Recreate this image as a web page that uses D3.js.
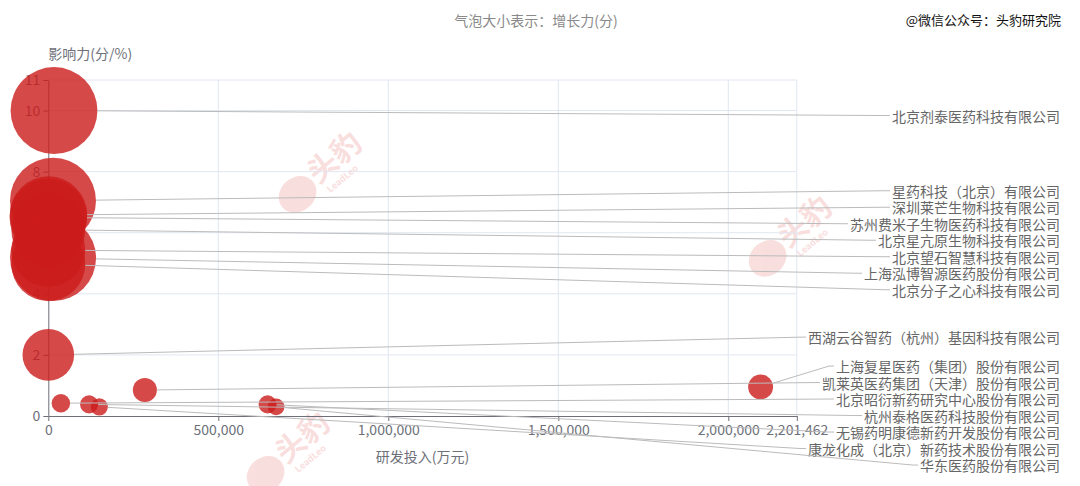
<!DOCTYPE html>
<html><head><meta charset="utf-8">
<script src="https://cdn.jsdelivr.net/npm/d3@7"></script>
<style>
body{margin:0;background:#fff}
svg{display:block}
text{font-family:"Noto Sans CJK SC","Microsoft YaHei",sans-serif}
</style>
</head><body>
<svg id="chart" width="1080" height="486"></svg>
<script>
// ---- data ----
const companies = [
  "北京剂泰医药科技有限公司",
  "星药科技（北京）有限公司",
  "深圳莱芒生物科技有限公司",
  "苏州费米子生物医药科技有限公司",
  "北京星亢原生物科技有限公司",
  "北京望石智慧科技有限公司",
  "上海泓博智源医药股份有限公司",
  "北京分子之心科技有限公司",
  "西湖云谷智药（杭州）基因科技有限公司",
  "上海复星医药（集团）股份有限公司",
  "凯莱英医药集团（天津）股份有限公司",
  "北京昭衍新药研究中心股份有限公司",
  "杭州泰格医药科技股份有限公司",
  "无锡药明康德新药开发股份有限公司",
  "康龙化成（北京）新药技术股份有限公司",
  "华东医药股份有限公司"
];
// 研发投入(万元)
const rdInvest = [16800, 13800, 500, 0, 0, 0, 14000, 0, 0, 2095000, 284000, 37000, 120000, 645000, 150000, 670000];
// 影响力(分/%)
const influence = [10, 7.05, 6.58, 6.5, 6.1, 5.43, 5.17, 4.97, 2, 0.95, 0.85, 0.42, 0.38, 0.38, 0.30, 0.30];
// 增长力(分) -> bubble size
const growth = [10.1, 10, 9, 9, 8.6, 8.6, 10, 8.6, 6, 2.9, 2.8, 2.15, 2.1, 2.1, 2.0, 1.95];
const xTicks = [0, 500000, 1000000, 1500000, 2000000, 2201462];
const yTicks = [0, 2, 4, 6, 8, 10, 11];
const titleText = "气泡大小表示：增长力(分)";
const sourceText = "@微信公众号：头豹研究院";
const yName = "影响力(分/%)";
const xName = "研发投入(万元)";

// ---- layout ----
const svg = d3.select("#chart");
const pL = 48.3, pR = 796.8, pT = 80, pB = 416;
const x = d3.scaleLinear().domain([0, xTicks[xTicks.length - 1]]).range([pL, pR]);
const y = d3.scaleLinear().domain([0, yTicks[yTicks.length - 1]]).range([pB, pT]);
const r = d3.scaleLinear().domain([0, 10]).range([0, 43]);
const axisColor = "#6E7079", gridColor = "#E0E6F1";

// watermarks
const wmPos = [[318, 172], [788, 236], [286, 452]];
wmPos.forEach(([wx, wy]) => {
  const g = svg.append("g").attr("transform", `translate(${wx},${wy}) rotate(-40)`).attr("opacity", 0.16);
  g.append("ellipse").attr("cx", -30).attr("cy", 4).attr("rx", 20).attr("ry", 17).attr("fill", "#e03a3a");
  g.append("text").attr("x", -8).attr("y", 10).attr("font-size", 30).attr("font-weight", 700)
    .attr("fill", "#e03a3a").text("头豹");
  g.append("text").attr("x", -4).attr("y", 24).attr("font-size", 9).attr("font-weight", 700)
    .attr("fill", "#e03a3a").text("LeadLeo");
});

// grid
svg.append("g").selectAll("line").data(yTicks.filter(d => d !== 0)).join("line")
  .attr("x1", pL).attr("x2", pR).attr("y1", d => y(d)).attr("y2", d => y(d))
  .attr("stroke", gridColor).attr("stroke-width", 1);
svg.append("g").selectAll("line").data(xTicks.filter(d => d !== 0)).join("line")
  .attr("x1", d => x(d)).attr("x2", d => x(d)).attr("y1", pT).attr("y2", pB)
  .attr("stroke", gridColor).attr("stroke-width", 1);

// axes
const xAxis = svg.append("g").attr("transform", `translate(0,${pB})`)
  .call(d3.axisBottom(x).tickValues(xTicks).tickFormat(d3.format(",")).tickSize(5).tickSizeOuter(0).tickPadding(4));
const yAxis = svg.append("g").attr("transform", `translate(${pL},0)`)
  .call(d3.axisLeft(y).tickValues(yTicks).tickFormat(d3.format("d")).tickSize(5).tickSizeOuter(0).tickPadding(3));
[xAxis, yAxis].forEach(a => {
  a.select(".domain").attr("stroke", axisColor);
  a.selectAll(".tick line").attr("stroke", axisColor);
  a.selectAll(".tick text").attr("fill", axisColor).attr("font-size", 14)
    .style("font-family", '"Noto Sans CJK SC","Microsoft YaHei",sans-serif');
});

svg.append("text").attr("x", pL).attr("y", 53).attr("dominant-baseline", "central")
  .attr("font-size", 14).attr("fill", axisColor).text(yName);
svg.append("text").attr("x", (pL + pR) / 2).attr("y", 456).attr("text-anchor", "middle")
  .attr("dominant-baseline", "central").attr("font-size", 14).attr("fill", axisColor).text(xName);
svg.append("text").attr("x", 536).attr("y", 20).attr("text-anchor", "middle")
  .attr("dominant-baseline", "central").attr("font-size", 14).attr("fill", "#8a8a8a").text(titleText);
svg.append("text").attr("x", 1061).attr("y", 19).attr("text-anchor", "end")
  .attr("dominant-baseline", "central").attr("font-size", 13).attr("fill", "#111").text(sourceText);

// bubbles
const items = companies.map((nm, i) => ({ nm, cx: x(rdInvest[i]), cy: y(influence[i]), rad: r(growth[i]) }));
svg.append("g").selectAll("circle").data(items).join("circle")
  .attr("cx", d => d.cx).attr("cy", d => d.cy).attr("r", d => d.rad)
  .attr("fill", "#cc1c1c").attr("fill-opacity", 0.8);

// label layout (shift on Y, squeeze gaps at bottom bound)
const LH = 16.5, SHIFT = 5, BOUND = 473.3, LABEL_RIGHT = 1060;
const order = d3.range(items.length).sort((a, b) => (items[a].cy - items[b].cy) || (a - b));
let lastPos = -Infinity;
order.forEach(i => {
  let t = items[i].cy + SHIFT - LH / 2;
  if (t < lastPos) t = lastPos;
  items[i].t = t;
  lastPos = t + LH;
});
let over = lastPos - BOUND;
if (over > 0) {
  const gaps = [];
  for (let k = 1; k < order.length; k++) {
    gaps.push(Math.max(items[order[k]].t - items[order[k - 1]].t - LH, 0));
  }
  const total = d3.sum(gaps);
  const pct = total ? Math.min(over / total, 0.8) : 0;
  let acc = 0;
  for (let k = 1; k < order.length; k++) {
    acc += gaps[k - 1] * pct;
    items[order[k]].t -= acc;
  }
  over -= acc;
  if (over > 0) order.forEach(i => items[i].t -= over);
}
items.forEach(d => d.ly = d.t + LH / 2);

const labels = svg.append("g").selectAll("text").data(items).join("text")
  .attr("x", LABEL_RIGHT).attr("y", d => d.ly).attr("text-anchor", "end")
  .attr("dominant-baseline", "central").attr("font-size", 14).attr("fill", "#666")
  .text(d => d.nm);
labels.each(function (d) { d.lx = LABEL_RIGHT - this.getComputedTextLength(); });

svg.append("g").selectAll("polyline").data(items).join("polyline")
  .attr("fill", "none").attr("stroke", "#bbb").attr("stroke-width", 1)
  .attr("points", d => {
    const p2 = [d.lx - 2, d.ly];
    const p1 = [d.lx - 7, d.ly];
    const ang = Math.atan2(p1[1] - d.cy, p1[0] - d.cx);
    const p0 = [d.cx + d.rad * Math.cos(ang), d.cy + d.rad * Math.sin(ang)];
    return [p0, p1, p2].map(p => p.join(",")).join(" ");
  });
labels.raise();
</script>
</body></html>
